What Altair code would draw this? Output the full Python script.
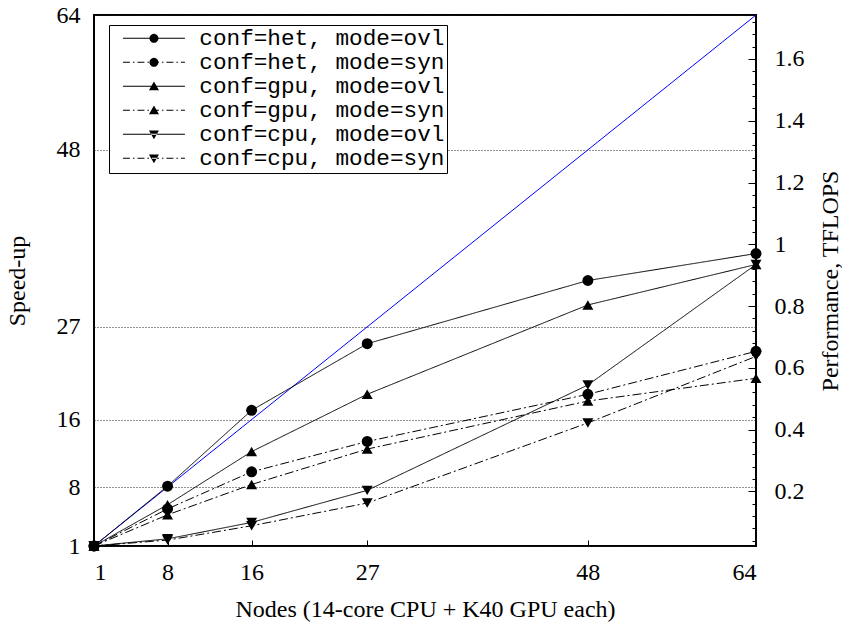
import math
import altair as alt
import pandas as pd

# ---------------- data ----------------
nodes = [1, 8, 16, 27, 48, 64]
series_names = [
    "conf=het, mode=ovl",
    "conf=het, mode=syn",
    "conf=gpu, mode=ovl",
    "conf=gpu, mode=syn",
    "conf=cpu, mode=ovl",
    "conf=cpu, mode=syn",
]
het_ovl = [1, 8.1, 17.1, 25.0, 32.5, 35.7]
het_syn = [1, 5.4, 9.8, 13.4, 19.0, 24.1]
gpu_ovl = [1, 5.9, 12.2, 19.0, 29.6, 34.4]
gpu_syn = [1, 4.7, 8.3, 12.5, 18.2, 20.9]
cpu_ovl = [1, 1.85, 3.8, 7.6, 20.1, 34.4]
cpu_syn = [1, 1.7, 3.4, 6.1, 15.6, 23.5]
series_values = [het_ovl, het_syn, gpu_ovl, gpu_syn, cpu_ovl, cpu_syn]
series_markers = ["circle", "circle", "triangle-up", "triangle-up", "triangle-down", "triangle-down"]
series_dash = ["solid", "dashdot", "solid", "dashdot", "solid", "dashdot"]

ideal_nodes = [1, 64]
ideal_speedup = [1, 64]

x_ticks = [1, 8, 16, 27, 48, 64]
speedup_ticks = [1, 8, 16, 27, 48, 64]
tflops_domain = [0.0227, 1.7425]
tflops_minor = [round(0.04 * i, 2) for i in range(1, 44)]
tflops_major = [0.2, 0.4, 0.6, 0.8, 1.0, 1.2, 1.4, 1.6]

rows = []
for name, vals, mk, ds in zip(series_names, series_values, series_markers, series_dash):
    for n, v in zip(nodes, vals):
        rows.append({"series": name, "nodes": n, "speedup": v, "marker": mk, "dash": ds})
df = pd.DataFrame(rows)
ideal_df = pd.DataFrame({"nodes": ideal_nodes, "speedup": ideal_speedup})

# ---------------- styles ----------------
SERIF = "Liberation Serif"
MONO = "Liberation Mono"
DASHDOT = [9, 3, 2, 3]


def rect(a, b):
    return f"M{a:.2f},-0.5L{b:.2f},-0.5L{b:.2f},0.5L{a:.2f},0.5Z"


def line_path(kind, half=31):
    if kind == "solid":
        return rect(-half, half)
    pat = [7, 3, 1.5, 3]
    out, x, i = [], -half, 0
    while x < half:
        seg = pat[i % len(pat)]
        if i % 2 == 0:
            out.append(rect(x, min(x + seg, half)))
        x += seg
        i += 1
    return "".join(out)


def circle_path(r=4.5, n=24):
    pts = [(r * math.cos(2 * math.pi * k / n), r * math.sin(2 * math.pi * k / n)) for k in range(n)]
    return "M" + "L".join(f"{px:.2f},{py:.2f}" for px, py in pts) + "Z"


marker_paths = {
    "circle": circle_path(),
    "triangle-up": "M0,-4.8L5,3.8L-5,3.8Z",
    "triangle-down": "M0,4.8L5,-3.8L-5,-3.8Z",
}
legend_paths = [line_path(d) + marker_paths[m] for m, d in zip(series_markers, series_dash)]

x_enc = alt.X(
    "nodes:Q",
    scale=alt.Scale(domain=[1, 64], nice=False, zero=False),
    axis=alt.Axis(
        values=x_ticks,
        title="Nodes (14-core CPU + K40 GPU each)",
        grid=False,
        domain=False,
        tickSize=6,
        offset=-6,
        tickColor="black",
        zindex=2,
        labelPadding=14,
        titlePadding=13,
        labelFont=SERIF,
        labelFontSize=24,
        titleFont=SERIF,
        titleFontSize=24,
        titleFontWeight="normal",
        labelColor="black",
        titleColor="black",
    ),
)
y_enc = alt.Y(
    "speedup:Q",
    scale=alt.Scale(domain=[1, 64], nice=False, zero=False),
    axis=alt.Axis(
        values=speedup_ticks,
        title="Speed-up",
        grid=True,
        gridDash=[1, 2],
        gridColor="#222222",
        gridWidth=1,
        domain=False,
        ticks=False,
        labelPadding=14,
        titlePadding=27,
        labelFont=SERIF,
        labelFontSize=24,
        titleFont=SERIF,
        titleFontSize=24,
        titleFontWeight="normal",
        labelColor="black",
        titleColor="black",
    ),
)

ideal = alt.Chart(ideal_df).mark_line(color="#0000ff", strokeWidth=1).encode(x=x_enc, y=y_enc)

# dash pattern keyed on the "dash" field so its (hidden) legend never merges with the series legend
lines = alt.Chart(df).mark_line(color="black", strokeWidth=1).encode(
    x=x_enc,
    y=y_enc,
    detail="series:N",
    strokeDash=alt.StrokeDash(
        "dash:N", scale=alt.Scale(domain=["solid", "dashdot"], range=[[1, 0], DASHDOT]), legend=None
    ),
)

point_layers = []
for mk in ["circle", "triangle-up", "triangle-down"]:
    point_layers.append(
        alt.Chart(df)
        .transform_filter(alt.datum.marker == mk)
        .mark_point(shape=mk, filled=True, color="black", size=120, opacity=1)
        .encode(x=x_enc, y=y_enc)
    )

legend_layer = alt.Chart(df).mark_point(filled=True, color="black", opacity=0, size=4).encode(
    x=x_enc,
    y=y_enc,
    shape=alt.Shape(
        "series:N",
        scale=alt.Scale(domain=series_names, range=legend_paths),
        legend=alt.Legend(
            title=None,
            orient="none",
            legendX=15,
            legendY=10,
            direction="vertical",
            labelFont=MONO,
            labelFontSize=22.7,
            labelColor="black",
            labelLimit=1000,
            labelOffset=34,
            symbolOffset=31.6,
            symbolSize=4,
            symbolFillColor="black",
            symbolStrokeColor="black",
            symbolStrokeWidth=0,
            symbolOpacity=1,
            strokeColor="black",
            fillColor="white",
            padding=2,
            rowPadding=-1,
            labelExpr="datum.label + ' '",
        ),
    ),
)

base = alt.layer(ideal, lines, *point_layers, legend_layer)

minor = alt.Chart(pd.DataFrame({"tflops": tflops_minor})).mark_point(opacity=0).encode(
    y=alt.Y(
        "tflops:Q",
        scale=alt.Scale(domain=tflops_domain, nice=False, zero=False),
        axis=alt.Axis(
            orient="right",
            values=tflops_minor,
            labels=False,
            title=None,
            tickSize=4,
            offset=-4,
            domain=False,
            grid=False,
            tickColor="black",
            zindex=2,
        ),
    )
)

major = alt.Chart(pd.DataFrame({"tflops": tflops_major})).mark_point(opacity=0).encode(
    y=alt.Y(
        "tflops:Q",
        scale=alt.Scale(domain=tflops_domain, nice=False, zero=False),
        axis=alt.Axis(
            orient="right",
            values=tflops_major,
            format="~g",
            title="Performance, TFLOPS",
            titleAngle=270,
            titleBaseline="top",
            tickSize=8,
            offset=-8,
            domain=False,
            grid=False,
            tickColor="black",
            zindex=2,
            labelPadding=18,
            titlePadding=14,
            labelFont=SERIF,
            labelFontSize=24,
            titleFont=SERIF,
            titleFontSize=24,
            titleFontWeight="normal",
            labelColor="black",
            titleColor="black",
        ),
    )
)

chart = (
    alt.layer(base, minor, major)
    .resolve_scale(y="independent")
    .properties(
        width=662,
        height=531,
        padding={"left": 94, "top": 15, "right": 101, "bottom": 76},
        autosize=alt.AutoSizeParams(type="none"),
        background="white",
    )
    .configure_view(stroke="black", strokeWidth=2)
)

chart.save("out.html", embed_options={"renderer": "svg", "actions": False})
